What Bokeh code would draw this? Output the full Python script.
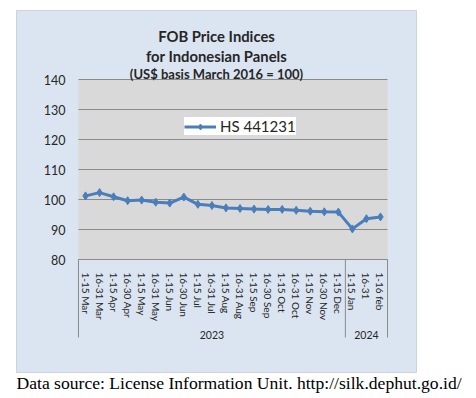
from bokeh.plotting import figure
from bokeh.models import (FactorRange, Range1d, FixedTicker, BoxAnnotation, Label,
                          Legend, LegendItem)
from bokeh.embed import file_html
from bokeh.resources import INLINE

# ---------------- data ----------------
years = ["2023", "2024"]
periods_2023 = ["1-15 Mar", "16-31 Mar", "1-15 Apr", "16-30 Apr", "1-15 May", "16-31 May",
                "1-15 Jun", "16-30 Jun", "1-15 Jul", "16-31 Jul", "1-15 Aug", "16-31 Aug",
                "1-15 Sep", "16-30 Sep", "1-15 Oct", "16-31 Oct", "1-15 Nov", "16-30 Nov",
                "1-15 Dec"]
periods_2024 = ["1-15 Jan", "16-31", "1-16 feb"]
values_2023 = [101.2, 102.3, 100.9, 99.6, 99.8, 99.1, 98.8, 100.8, 98.4, 98.0,
               97.2, 97.0, 96.8, 96.7, 96.7, 96.4, 96.1, 95.9, 95.8]
values_2024 = [90.2, 93.6, 94.2]
y_ticks = [80, 90, 100, 110, 120, 130, 140]
series_name = "HS 441231"
title_lines = ["FOB Price Indices", "for Indonesian Panels", "(US$ basis March 2016 = 100)"]
footnote = "Data source: License Information Unit. http://silk.dephut.go.id/"

groups = [(years[0], periods_2023), (years[1], periods_2024)]
factors = [(y, p) for y, ps in groups for p in ps]
values = values_2023 + values_2024
bounds = [0]
for _, ps in groups:
    bounds.append(bounds[-1] + len(ps))

# ---------------- layout constants ----------------
PX_PER_FACTOR = 14.05
PAD_PX = 78                      # canvas px left of the plot area (= right pad)
W = int(round(2 * PAD_PX + len(factors) * PX_PER_FACTOR))
H = 396
PX_PER_UNIT = 3.0
TOP_PX = 79                      # px from canvas top to y=140
y_top = y_ticks[-1] + TOP_PX / PX_PER_UNIT
y_bot = y_top - H / PX_PER_UNIT

BG = "#dbe5f1"
FONT = "Lato"
TXT = "#262626"
BLUE = "#4a7ebb"
GRID = "#8a8a8a"

x_range = FactorRange(*factors, factor_padding=0, group_padding=0,
                      range_padding=PAD_PX / PX_PER_FACTOR, range_padding_units="absolute")
p = figure(width=W, height=H, x_range=x_range, y_range=Range1d(y_bot, y_top),
           output_backend="svg", toolbar_location=None, min_border=0)
p.background_fill_color = "white"
p.border_fill_color = "white"
p.outline_line_color = None

# light blue chart box with gray border
p.add_layout(BoxAnnotation(left=16, right=416, top=10, bottom=372,
                           left_units="canvas", right_units="canvas",
                           top_units="canvas", bottom_units="canvas",
                           fill_color=BG, fill_alpha=1, line_color="#8c8c8c",
                           line_width=1, level="image"))
# gray plot area
p.add_layout(BoxAnnotation(left=bounds[0], right=bounds[-1], bottom=y_ticks[0],
                           top=y_ticks[-1], fill_color="#d9d9d9", fill_alpha=1,
                           line_color=None, level="image"))

# horizontal grid lines limited to the plot area
p.xgrid.visible = False
p.ygrid.visible = False
p.segment(x0=[bounds[0]] * len(y_ticks), y0=y_ticks, x1=[bounds[-1]] * len(y_ticks),
          y1=y_ticks, line_color=GRID, line_width=1, level="underlay")

ya = p.yaxis[0]
ya.fixed_location = bounds[0]
ya.ticker = FixedTicker(ticks=y_ticks)
ya.axis_line_color = None
ya.major_tick_line_color = None
ya.minor_tick_line_color = None
ya.major_label_standoff = 7
ya.major_label_text_font = FONT
ya.major_label_text_font_size = "12.5px"
ya.major_label_text_color = TXT

xa = p.xaxis[0]
xa.fixed_location = y_ticks[0]
xa.bounds = (bounds[0], bounds[-1])
xa.axis_line_color = GRID
xa.major_tick_line_color = None
xa.minor_tick_line_color = None
xa.major_label_orientation = "vertical"
xa.major_label_standoff = 7
xa.major_label_text_font = FONT
xa.major_label_text_font_size = "10px"
xa.major_label_text_color = TXT
xa.group_text_font = FONT
xa.group_text_font_size = "10.5px"
xa.group_text_font_style = "normal"
xa.group_text_color = TXT
xa.separator_line_color = None

# group separators (outer edges and between years)
SEP_LOW = 54
p.segment(x0=bounds, y0=[y_ticks[0]] * len(bounds), x1=bounds, y1=[SEP_LOW] * len(bounds),
          line_color=GRID, line_width=1)

# series
r_line = p.line(factors, values, line_color=BLUE, line_width=3)
r_pts = p.scatter(factors, values, marker="diamond", size=8, fill_color=BLUE,
                  line_color=BLUE)

legend = Legend(items=[LegendItem(label=series_name, renderers=[r_line, r_pts])],
                location=(184, 261), background_fill_color="white", background_fill_alpha=1,
                border_line_color=None, label_text_font=FONT, label_text_font_size="15px",
                label_text_color=TXT, glyph_width=32, glyph_height=15, label_height=15,
                padding=6, margin=0, label_standoff=4, spacing=0)
p.add_layout(legend, "center")

# titles
title_y = [35, 55, 73]
title_size = ["14.8px", "14.8px", "13px"]
for txt, ty, ts in zip(title_lines, title_y, title_size):
    p.add_layout(Label(x=216, y=ty, x_units="canvas", y_units="canvas", text=txt,
                       text_align="center", text_baseline="middle", text_font=FONT,
                       text_font_size=ts, text_font_style="bold", text_color=TXT))

# footnote
p.add_layout(Label(x=16, y=382, x_units="canvas", y_units="canvas", text=footnote,
                   text_align="left", text_baseline="middle", text_font="Liberation Serif",
                   text_font_size="17.6px", text_color="black"))

open("out.html", "w").write(file_html(p, INLINE))
